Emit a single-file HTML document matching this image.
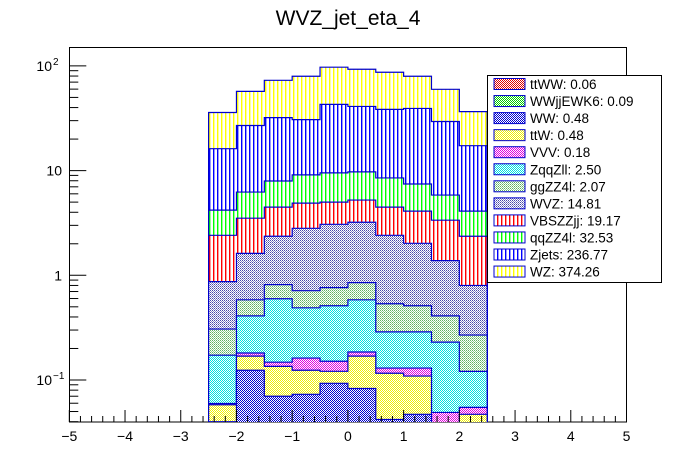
<!DOCTYPE html>
<html><head><meta charset="utf-8"><style>
body{margin:0;background:#fff;}
svg{display:block;font-family:"Liberation Sans",Arial,sans-serif;}
</style></head><body>
<svg id="c" width="696" height="472">
<defs>
<pattern id="pv-yellow" width="4" height="4" patternUnits="userSpaceOnUse"><rect width="4" height="4" fill="#fff"/><rect x="1" width="1.4" height="4" fill="#ffff00"/></pattern>
<pattern id="pv-blue" width="4" height="4" patternUnits="userSpaceOnUse"><rect width="4" height="4" fill="#fff"/><rect x="1" width="1.4" height="4" fill="#0000ff"/></pattern>
<pattern id="pv-green" width="4" height="4" patternUnits="userSpaceOnUse"><rect width="4" height="4" fill="#fff"/><rect x="1" width="1.4" height="4" fill="#00ff00"/></pattern>
<pattern id="pv-red" width="4" height="4" patternUnits="userSpaceOnUse"><rect width="4" height="4" fill="#fff"/><rect x="1" width="1.4" height="4" fill="#ff0000"/></pattern>
<pattern id="pc-slate" width="2" height="2" patternUnits="userSpaceOnUse"><rect width="2" height="2" fill="#fff"/><rect width="1" height="1" fill="#4848a8"/><rect x="1" y="1" width="1" height="1" fill="#8888c8"/></pattern>
<pattern id="pc-lgreen" width="2" height="2" patternUnits="userSpaceOnUse"><rect width="2" height="2" fill="#fff"/><rect width="1" height="1" fill="#60b060"/><rect x="1" y="1" width="1" height="1" fill="#90d090"/></pattern>
<pattern id="pc-cyan" width="2" height="2" patternUnits="userSpaceOnUse"><rect width="2" height="2" fill="#fff"/><rect width="1" height="1" fill="#00e0e0"/><rect x="1" y="1" width="1" height="1" fill="#00e0e0"/></pattern>
<pattern id="pc-magenta" width="2" height="2" patternUnits="userSpaceOnUse"><rect width="2" height="2" fill="#fff"/><rect width="1" height="1" fill="#e000e0"/><rect x="1" y="1" width="1" height="1" fill="#e000e0"/></pattern>
<pattern id="pc-yellow" width="2" height="2" patternUnits="userSpaceOnUse"><rect width="2" height="2" fill="#fff"/><rect width="1" height="1" fill="#f0f000"/><rect x="1" y="1" width="1" height="1" fill="#f0f000"/></pattern>
<pattern id="pc-blue" width="2" height="2" patternUnits="userSpaceOnUse"><rect width="2" height="2" fill="#fff"/><rect width="1" height="1" fill="#0000d0"/><rect x="1" y="1" width="1" height="1" fill="#0000d0"/></pattern>
<pattern id="pc-green" width="2" height="2" patternUnits="userSpaceOnUse"><rect width="2" height="2" fill="#fff"/><rect width="1" height="1" fill="#00d000"/><rect x="1" y="1" width="1" height="1" fill="#00d000"/></pattern>
<pattern id="pc-red" width="2" height="2" patternUnits="userSpaceOnUse"><rect width="2" height="2" fill="#fff"/><rect width="1" height="1" fill="#e00000"/><rect x="1" y="1" width="1" height="1" fill="#e00000"/></pattern>
<clipPath id="frameclip"><rect x="69" y="47" width="558" height="375"/></clipPath>
</defs>
<text x="348" y="25" font-size="21" text-anchor="middle">WVZ_jet_eta_4</text>
<rect x="69.5" y="47.5" width="557" height="374.5" fill="none" stroke="#000" stroke-width="1"/>
<g id="bars" clip-path="url(#frameclip)"></g>
<g id="axes"></g>
<g id="legend"></g>
</svg>
<script>
// bin edges: -2.5 .. 2.5, width 0.5
const binLow = [-2.5,-2,-1.5,-1,-0.5,0,0.5,1,1.5,2];
const binWidth = 0.5;
// series (stack order bottom -> top)
const seriesNames = ["ttWW","WWjjEWK6","WW","ttW","VVV","ZqqZll","ggZZ4l","WVZ","VBSZZjj","qqZZ4l","Zjets","WZ"];
const seriesTotals = ["0.06","0.09","0.48","0.48","0.18","2.50","2.07","14.81","19.17","32.53","236.77","374.26"];
const vTtWW   = [0.002,0.002,0.002,0.002,0.002,0.002,0.002,0.002,0.001,0.001];
const vWWjj   = [0.002,0.002,0.002,0.002,0.002,0.002,0.002,0.002,0.001,0.001];
const vWW     = [0.036,0.120,0.066,0.069,0.089,0.079,0.038,0.043,0,0];
const vTtW    = [0.018,0.045,0.065,0.051,0.028,0.086,0.074,0.062,0,0.045];
const vVVV    = [0.0016,0.012,0.013,0.038,0.030,0.016,0.014,0.021,0.047,0.0078];
const vZqqZll = [0.113,0.229,0.449,0.327,0.361,0.398,0.158,0.158,0.181,0.066];
const vGgZZ   = [0.134,0.173,0.217,0.224,0.250,0.268,0.247,0.224,0.180,0.148];
const vWVZ    = [0.563,1.037,1.546,2.097,2.308,2.359,1.875,1.508,0.97,0.531];
const vVBS    = [1.54,1.89,2.12,2.08,1.93,2.02,2.07,2.08,1.98,1.56];
const vQqZZ   = [1.78,2.73,3.48,4.21,4.51,4.49,4.03,3.35,2.48,1.74];
const vZjets  = [12.0,20.7,24.1,21.6,33.4,31.3,29.9,31.8,23.6,13.2];
const vWZ     = [19.7,30.2,40.8,48.9,54.3,51.9,48.5,40.4,30.3,19.3];
const xTicks = [-5,-4,-3,-2,-1,0,1,2,3,4,5];
const xTickLabels = ["\u22125","\u22124","\u22123","\u22122","\u22121","0","1","2","3","4","5"];

const seriesValues = [vTtWW,vWWjj,vWW,vTtW,vVVV,vZqqZll,vGgZZ,vWVZ,vVBS,vQqZZ,vZjets,vWZ];
const fills = ["pc-red","pc-green","pc-blue","pc-yellow","pc-magenta","pc-cyan","pc-lgreen","pc-slate","pv-red","pv-green","pv-blue","pv-yellow"];

const NS="http://www.w3.org/2000/svg";
const X0=69.3, X1=626.5, xmin=-5, xmax=5;
const Y1=275.3, DEC=104.7, YBOT=422, YTOP=47;
function xs(v){return X0+(v-xmin)/(xmax-xmin)*(X1-X0);}
function ys(v){if(v<=0)return YBOT+5;return Math.min(YBOT+5,Y1-Math.log10(v)*DEC);}
function mk(tag,attrs,parent){const e=document.createElementNS(NS,tag);for(const k in attrs)e.setAttribute(k,attrs[k]);parent.appendChild(e);return e;}

const bars=document.getElementById('bars');
const cum=[];
let run=binLow.map(()=>0);
for(let s=0;s<seriesValues.length;s++){run=run.map((r,i)=>r+seriesValues[s][i]);cum.push(run.slice());}
for(let s=seriesValues.length-1;s>=0;s--){
  const c=cum[s];
  let d="M"+xs(binLow[0])+","+(YBOT+5);
  for(let i=0;i<binLow.length;i++){
    const y=ys(c[i]);
    d+=" L"+xs(binLow[i])+","+y+" L"+xs(binLow[i]+binWidth)+","+y;
  }
  d+=" L"+xs(binLow[binLow.length-1]+binWidth)+","+(YBOT+5)+" Z";
  const p=mk('path',{d:d,fill:"url(#"+fills[s]+")",stroke:"#0000cc","stroke-width":"1.2"},bars);
  
  
}

const axes=document.getElementById('axes');
// x ticks
for(let v=-5;v<=5.001;v+=0.2){
  const major=Math.abs(v-Math.round(v))<1e-6;
  const x=xs(v);
  mk('line',{x1:x,x2:x,y1:YBOT,y2:YBOT-(major?12:6),stroke:"#000","stroke-width":"1"},axes);
}
for(let i=0;i<xTicks.length;i++){
  const t=mk('text',{x:xs(xTicks[i]),y:441,"font-size":"14","text-anchor":"middle"},axes);
  t.textContent=xTickLabels[i];
  
  
}
// y ticks (log)
for(let e=-2;e<=2;e++){
  for(let m=1;m<=9;m++){
    const v=m*Math.pow(10,e);
    const y=ys(v);
    if(y<YTOP||y>YBOT)continue;
    mk('line',{x1:X0,x2:X0+(m===1?17:9),y1:y,y2:y,stroke:"#000","stroke-width":"1"},axes);
  }
}
const yl=[[100,"10","2"],[10,"10",""],[1,"1",""],[0.1,"10","\u22121"]];
yl.forEach(a=>{
  const y=ys(a[0]);
  const t=mk('text',{x:a[2]?52:62,y:y+5,"font-size":"14","text-anchor":"end"},axes);
  t.textContent=a[1];
  
  
  if(a[2]){const s=mk('text',{x:53,y:y-1,"font-size":"10"},axes);s.textContent=a[2];}
});

// legend
const lg=document.getElementById('legend');
const box=mk('rect',{x:487.5,y:75.5,width:174,height:207,fill:"#fff",stroke:"#000","stroke-width":"1"},lg);


for(let s=0;s<seriesNames.length;s++){
  const cy=84+s*17.05;
  const r=mk('rect',{x:494,y:cy-5.5,width:31,height:11,fill:"url(#"+fills[s]+")",stroke:"#0000cc","stroke-width":"1"},lg);
  
  
  const t=mk('text',{x:530,y:cy+5,"font-size":"13.5"},lg);
  t.textContent=seriesNames[s]+": "+seriesTotals[s];
  
  
}
</script>
</body></html>
